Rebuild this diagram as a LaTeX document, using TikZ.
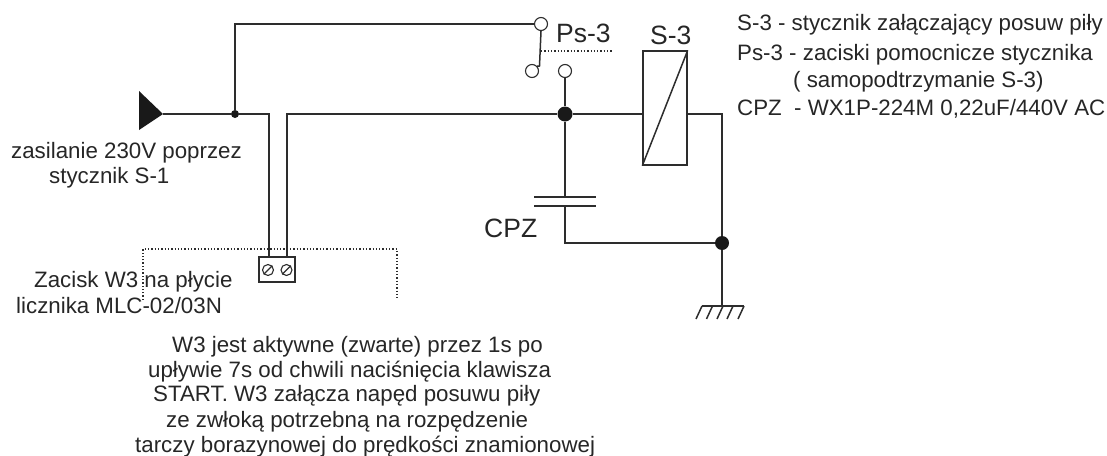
\documentclass[tikz,border=0pt]{standalone}
\usepackage{fontspec}
\setmainfont{Liberation Sans}
\usetikzlibrary{positioning}
\definecolor{fil}{RGB}{45,45,45}
\tikzset{
  wire/.style={draw=fil,line width=1.5pt},
  contact/.style={circle,draw=fil,fill=white,line width=1.1pt,inner sep=0pt,minimum size=13pt},
  junction/.style={circle,fill=black!90,inner sep=0pt,minimum size=#1},
  screw/.style={circle,draw=fil,line width=1.1pt,inner sep=0pt,minimum size=11pt},
  lab/.style={inner sep=0pt,anchor=base west,text=black!85,font=\fontsize{22.3}{22.3}\selectfont},
  biglab/.style={inner sep=0pt,anchor=base west,text=black!85,font=\fontsize{26.5}{26.5}\selectfont},
  dotline/.style={draw=fil,line width=1.3pt,dash pattern=on 1.3pt off 2pt}
}
\begin{document}
\begin{tikzpicture}[x=1pt,y=-1pt]
\useasboundingbox (0,0) rectangle (1107,455);
\def\hachure{+(0,0)--+(-6,13)}
% zasilanie
\coordinate (tip) at (163,114);
\fill[black!90] (tip)--(139,91)--(139,130)--cycle;
\node[junction=8pt] (j1) at (235,114) {};
\node[junction=15pt] (j2) at (565,114) {};
\node[junction=14pt] (j3) at (722,243) {};
% styki Ps-3
\node[contact] (ps1) at (541,24) {};
\node[contact] (ps2) at (532,71) {};
\node[contact] (ps3) at (565,71) {};
% cewka S-3
\node[draw=fil,line width=1.4pt,minimum width=44pt,minimum height=114pt,inner sep=0pt] (coil) at (665,108) {};
\draw[wire] (coil.south west)--(coil.north east);
% zacisk W3
\node[draw=fil,line width=1.4pt,minimum width=36pt,minimum height=25pt,inner sep=0pt] (w3) at (277,269.5) {};
\node[screw] (sc1) at (268,270) {};
\node[screw] (sc2) at (286.5,270) {};
\draw[wire,line width=1.1pt] (sc1.south west)--(sc1.north east);
\draw[wire,line width=1.1pt] (sc2.south west)--(sc2.north east);
% kondensator CPZ
\coordinate (cpzT) at (565,197);
\coordinate (cpzB) at (565,206);
\draw[wire] (534,197)--(596,197);
\draw[wire] (534,206)--(596,206);
% masa
\coordinate (gnd) at (722,306);
\draw[wire] (702,306)--(744,306);
\foreach \x in {702,712.5,723,733,744}
  \draw[wire] (\x,306) \hachure;
% polaczenia
\draw[wire] (tip)--(j1);
\draw[wire] (j1)-|(269,257);
\draw[wire] (j1)|-(ps1);
\draw[wire] (287,257)|-(j2);
\draw[wire] (j2)--(j2-|coil.west);
\draw[wire] (ps1.south)--(539.5,66)--(ps2.north east);
\draw[wire] (ps3)--(j2);
\draw[wire] (j2)--(cpzT);
\draw[wire] (cpzB)|-(j3);
\draw[wire] (j2-|coil.east)-|(j3);
\draw[wire] (j3)--(gnd);
% linie kropkowane
\draw[dotline] (541,51)--(612,51);
\draw[dotline] (143,300)--(143,249)--(397,249)--(397,298);
% opisy
\node[biglab] (lps) at (556,42) {Ps-3};
\node[biglab] (ls3) at (650,44) {S-3};
\node[biglab] (lcpz) at (484,237) {CPZ};
\node[lab] (t1) at (737,30) {S-3 - stycznik załączający posuw piły};
\node[lab] (t2) at (737,60) {Ps-3 - zaciski pomocnicze stycznika};
\node[lab] (t3) at (793,87) {( samopodtrzymanie S-3)};
\node[lab] (t4) at (737,115) {CPZ\ \ - WX1P-224M 0,22uF/440V AC};
\node[lab] (z1) at (11,158) {zasilanie 230V poprzez};
\node[lab] (z2) at (49,183) {stycznik S-1};
\node[lab] (w1) at (34,287) {Zacisk W3 na płycie};
\node[lab] (w2) at (16,313) {licznika MLC-02/03N};
\node[lab] (o1) at (172,352) {W3 jest aktywne (zwarte) przez 1s po};
\node[lab] (o2) at (148,377) {upływie 7s od chwili naciśnięcia klawisza};
\node[lab] (o3) at (153,401) {START. W3 załącza napęd posuwu piły};
\node[lab] (o4) at (166,427) {ze zwłoką potrzebną na rozpędzenie};
\node[lab] (o5) at (135,452) {tarczy borazynowej do prędkości znamionowej};
\end{tikzpicture}
\end{document}
